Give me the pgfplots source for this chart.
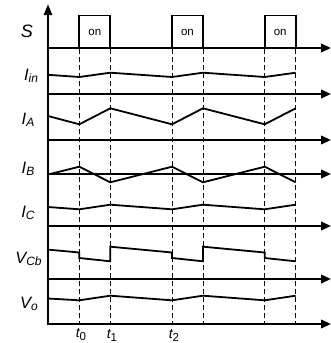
\documentclass[border=0pt]{standalone}
\usepackage{fontspec}
\setmainfont{Liberation Sans}
\usepackage{pgfplots}
\pgfplotsset{compat=1.18}
\usetikzlibrary{arrows.meta}

% signal label: italic symbol with a lowered italic subscript
\newcommand{\sig}[2]{{\fontsize{16.5}{16.5}\selectfont\itshape #1\raisebox{-1.5pt}{\fontsize{12}{12}\selectfont #2}}}
\newcommand{\tlab}[1]{{\fontsize{14}{14}\selectfont\itshape t\raisebox{-3pt}{\fontsize{11.5}{11.5}\selectfont\upshape #1}}}

\begin{document}
\begin{tikzpicture}
\begin{axis}[name=ax, scale only axis, width=331pt, height=343pt,
  xmin=0, xmax=331, ymin=0, ymax=343, y dir=reverse,
  hide axis, clip=false]

% time axes (one per trace)
\pgfplotsinvokeforeach{48,94,140,174,226,279,324}{
  \addplot[line width=2.2pt, -{Triangle[length=10pt,width=8.5pt]}] coordinates {(47,#1) (331,#1)};
}
% vertical axis
\addplot[line width=2.2pt, -{Triangle[length=11pt,width=8pt]}] coordinates {(48,325.1) (48,4)};

% switching instants
\pgfplotsinvokeforeach{79.3,110.3,172,203,264.7,295.7}{
  \addplot[line width=0.9pt, dash pattern=on 5pt off 3pt] coordinates {(#1,49) (#1,324)};
}

% gate signal S
\addplot[line width=1.8pt] coordinates {(79.3,48) (79.3,15.5) (110.3,15.5) (110.3,48)};
\addplot[line width=1.8pt] coordinates {(172,48) (172,15.5) (203,15.5) (203,48)};
\addplot[line width=1.8pt] coordinates {(264.7,48) (264.7,15.5) (295.7,15.5) (295.7,48)};

% I_in
\addplot[line width=1.8pt] coordinates {(48,74.8) (79.3,77) (110.3,72.7) (172,77) (203,72.7) (264.7,77) (295.7,72.7)};
% I_A
\addplot[line width=1.8pt] coordinates {(48,116) (79.3,124.3) (110.3,108.3) (172,124.3) (203,108.3) (264.7,124.3) (295.7,108.3)};
% I_B
\addplot[line width=1.8pt] coordinates {(48,174.5) (79.3,166.7) (110.3,182.3) (172,166.7) (203,182.3) (264.7,166.7) (295.7,182.3)};
% I_C
\addplot[line width=1.8pt] coordinates {(48,207) (79.3,209.3) (110.3,204.7) (172,209.3) (203,204.7) (264.7,209.3) (295.7,204.7)};
% V_Cb
\addplot[line width=1.8pt] coordinates {(48,249.6) (79.3,252.5) (79.3,258) (110.3,261.3) (110.3,246.7) (172,252.5) (172,258) (203,261.3) (203,246.7) (264.7,252.5) (264.7,258) (295.7,261.3)};
% V_o
\addplot[line width=1.8pt] coordinates {(48,298.5) (79.3,300.3) (110.3,295.7) (172,300.3) (203,295.7) (264.7,300.3) (295.7,295.7)};

% labels
\node at (axis cs:27,31) {\fontsize{18}{18}\selectfont\itshape S};
\node at (axis cs:31,76) {\sig{I}{in}};
\node at (axis cs:28,120) {\sig{I}{A}};
\node at (axis cs:28,169) {\sig{I}{B}};
\node at (axis cs:28,213) {\sig{I}{C}};
\node at (axis cs:28.5,259) {\sig{V}{Cb}};
\node at (axis cs:29,304) {\sig{V}{o}};

\foreach \x in {94.8,187.5,280.2}{
  \edef\tmp{\noexpand\node at (axis cs:\x,32) {\noexpand\fontsize{11.5}{11.5}\noexpand\selectfont on};}\tmp
}

\node at (axis cs:81,335) {\tlab{0}};
\node at (axis cs:112,335) {\tlab{1}};
\node at (axis cs:174,335) {\tlab{2}};
\end{axis}
\pgfresetboundingbox
\path (ax.south west) rectangle (ax.north east);
\end{tikzpicture}
\end{document}
